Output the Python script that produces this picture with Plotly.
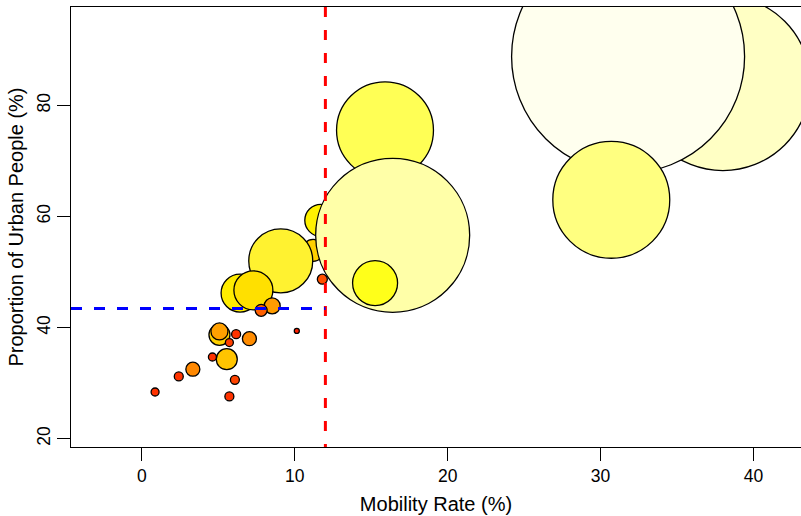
import numpy as np
import plotly.graph_objects as go

# Regions listed in drawing order (later entries are painted on top)
mobility = [38.0, 31.8, 30.7, 15.9, 11.7, 11.2, 16.4, 15.25, 11.8, 9.08,
            6.42, 7.29, 8.52, 7.80, 5.07, 5.07, 5.55, 7.03, 6.16, 5.72,
            0.86, 2.41, 3.33, 4.61, 6.08, 5.72, 10.13]
urban = [84.0, 88.8, 63.0, 75.5, 59.3, 53.9, 56.6, 48.0, 48.7, 52.0,
         46.2, 46.7, 43.9, 43.1, 38.7, 39.3, 34.3, 38.0, 38.8, 37.3,
         28.4, 31.2, 32.5, 34.7, 30.6, 27.6, 39.4]
population = [564.0, 1000.0, 252.0, 173.0, 18.9, 8.9, 437.0, 37.3, 1.84, 75.4,
              26.6, 28.0, 4.72, 2.65, 8.12, 5.32, 8.12, 3.61, 1.49, 1.18,
              1.18, 1.49, 3.61, 1.18, 1.49, 1.49, 0.46]
fill = ["#FFFFC4", "#FFFFEE", "#FFFF80", "#FFFF55", "#FFF200", "#FFD000",
        "#FFFFA8", "#FFFF1A", "#FF5000", "#FFF230", "#FFEC00", "#FFE000",
        "#FF9C00", "#FF6000", "#FFD000", "#FFA000", "#FFC400", "#FF8C00",
        "#FF3300", "#FF4000", "#FF3300", "#FF3300", "#FF8800", "#FF3300",
        "#FF4400", "#FF3300", "#FF2000"]

mobility_cut = 12.0
urban_cut = 43.45

x_range = [-4.64, 43.11]
y_range = [18.5, 97.7]

# circle diameter grows with the square root of population
max_diameter = 233
pop = np.array(population)
diam = max_diameter * np.sqrt(pop / pop.max())

fig = go.Figure()
fig.add_trace(go.Scatter(
    x=mobility, y=urban, mode="markers",
    marker=dict(size=diam, color=fill, opacity=1,
                line=dict(color="black", width=1.3)),
    cliponaxis=True, showlegend=False, hoverinfo="x+y",
))

fig.add_shape(type="line", xref="x", yref="paper",
              x0=mobility_cut, x1=mobility_cut, y0=1, y1=0,
              line=dict(color="#FF0000", width=3, dash="10px,13px"))
fig.add_shape(type="line", xref="x", yref="y",
              x0=x_range[0], x1=mobility_cut, y0=urban_cut, y1=urban_cut,
              line=dict(color="#0000FF", width=3, dash="11px,12px"))

font = dict(family="Liberation Sans, Arial, sans-serif", size=17, color="black")

fig.update_layout(
    width=801, height=516,
    margin=dict(l=71, r=0, t=7, b=69),
    paper_bgcolor="white", plot_bgcolor="white",
    font=font,
    xaxis=dict(range=x_range, tickvals=[0, 10, 20, 30, 40],
               ticks="outside", ticklen=13, tickwidth=1.3, tickcolor="black",
               showline=True, linecolor="black", linewidth=1.3, mirror=True,
               showgrid=False, zeroline=False, tickfont=dict(size=17.5),
               title=dict(text="Mobility Rate (%)", standoff=11)),
    yaxis=dict(range=y_range, tickvals=[20, 40, 60, 80], tickangle=-90,
               ticks="outside", ticklen=13, tickwidth=1.3, tickcolor="black",
               showline=True, linecolor="black", linewidth=1.3,
               showgrid=False, zeroline=False, tickfont=dict(size=17.5),
               title=dict(text="Proportion of Urban People (%)", standoff=4)),
)

fig.write_html("out.html")
